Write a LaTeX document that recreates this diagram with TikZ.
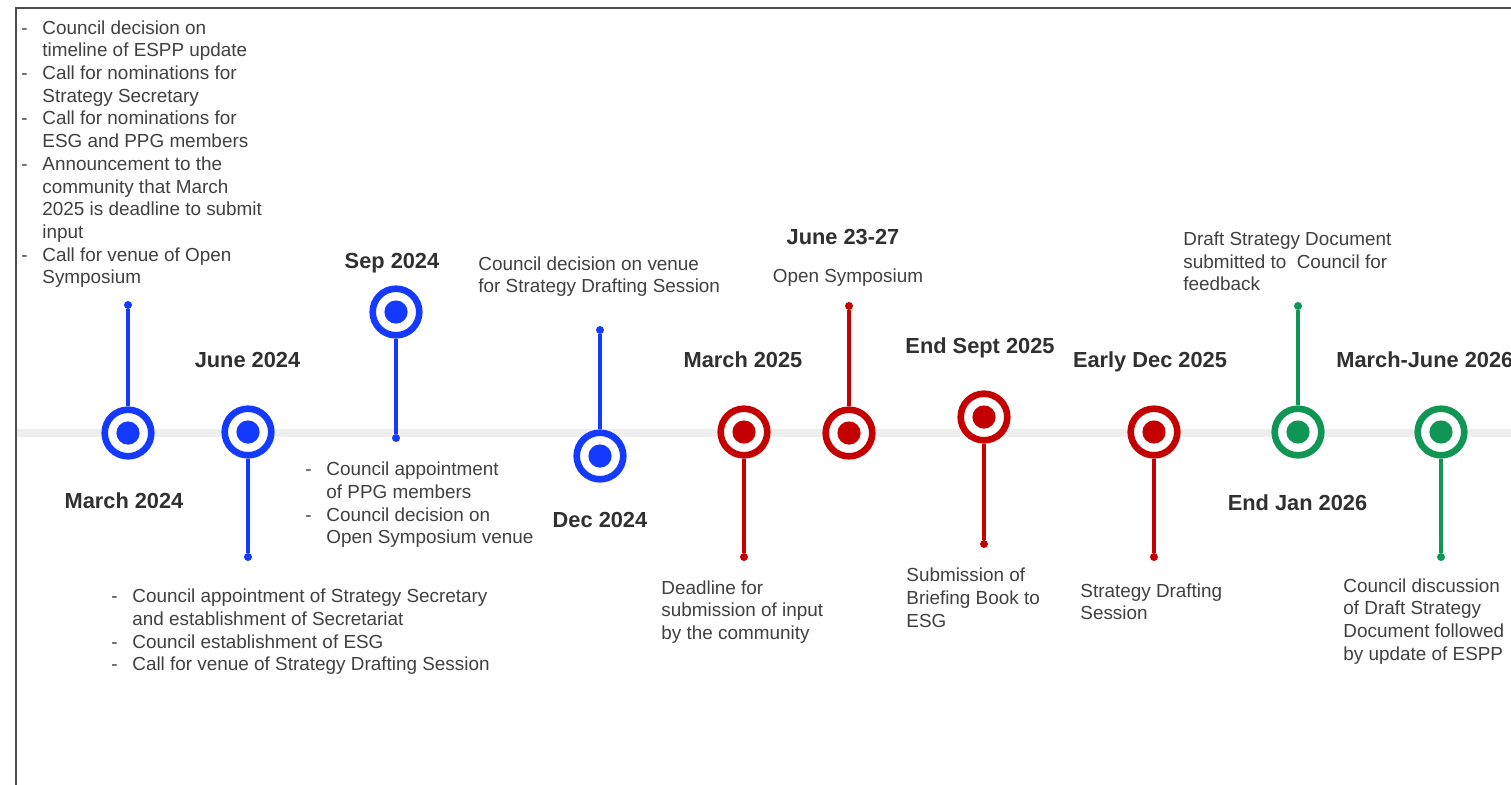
\documentclass[tikz,border=0pt]{standalone}
\usepackage{fontspec}
\setmainfont{Liberation Sans}
\definecolor{evblue}{RGB}{20,58,255}
\definecolor{evred}{RGB}{196,0,0}
\definecolor{evgreen}{RGB}{16,150,84}
\definecolor{axisgray}{RGB}{238,238,238}
\definecolor{txtgray}{RGB}{64,64,64}
\definecolor{lblgray}{RGB}{48,48,48}
\newcommand{\itm}[1]{\makebox[10.5pt][l]{-}#1}
\newcommand{\cnt}[1]{\hspace*{10.5pt}#1}

\begin{document}
\begin{tikzpicture}[x=0.5pt,y=-0.5pt,
  evring/.style={circle,draw=#1,fill=white,line width=3.3pt,minimum size=23.3pt,inner sep=0pt,
    path picture={\fill[#1] (path picture bounding box.center) circle (5.8pt);}},
  stemend/.style={circle,fill=#1,inner sep=0pt,minimum size=4pt},
  stem/.style={draw=#1,line width=1.6pt},
  when/.style={font=\bfseries\fontsize{10.9}{13}\selectfont,text=lblgray,anchor=base,inner sep=0pt},
  what/.style={font=\fontsize{9.45}{11.35}\selectfont,text=txtgray,align=left,anchor=north west,inner sep=0pt}]
\useasboundingbox (0,0) rectangle (1511,784);
\fill[white] (0,0) rectangle (1511,784);
\clip (0,0) rectangle (1511,784);
\draw[line width=1.2pt,draw=gray!60!black] (16,790) -- (16,8) -- (1515,8);
\draw[line width=4pt,axisgray] (17,433) -- (1511,433);
%march 2024
\node[evring=evblue] (m1) at (128,433) {};
\node[stemend=evblue] (e1) at (128,305) {};
\node[when] (d1) at (124,508) {March 2024};
\node[what] (n1) at (21,20) {\itm{Council decision on}\\ \cnt{timeline of ESPP update}\\
  \itm{Call for nominations for}\\ \cnt{Strategy Secretary}\\
  \itm{Call for nominations for}\\ \cnt{ESG and PPG members}\\
  \itm{Announcement to the}\\ \cnt{community that March}\\ \cnt{2025 is deadline to submit}\\ \cnt{input}\\
  \itm{Call for venue of Open}\\ \cnt{Symposium}};
\draw[stem=evblue] (m1) -- (e1);
%june 2024
\node[evring=evblue] (m2) at (248,432) {};
\node[stemend=evblue] (e2) at (248,557) {};
\node[when] (d2) at (247.5,367) {June 2024};
\node[what] (n2) at (111,588.5) {\itm{Council appointment of Strategy Secretary}\\ \cnt{and establishment of Secretariat}\\
  \itm{Council establishment of ESG}\\ \itm{Call for venue of Strategy Drafting Session}};
\draw[stem=evblue] (m2) -- (e2);
%sep 2024
\node[evring=evblue] (m3) at (396,312) {};
\node[stemend=evblue] (e3) at (396,438) {};
\node[when] (d3) at (392,268) {Sep 2024};
\node[what] (n3) at (305,461.5) {\itm{Council appointment}\\ \cnt{of PPG members}\\
  \itm{Council decision on}\\ \cnt{Open Symposium venue}};
\draw[stem=evblue] (m3) -- (e3);
%dec 2024
\node[evring=evblue] (m4) at (600,456) {};
\node[stemend=evblue] (e4) at (600,330) {};
\node[when] (d4) at (600,527) {Dec 2024};
\node[what] (n4) at (478,256) {Council decision on venue\\ for Strategy Drafting Session};
\draw[stem=evblue] (m4) -- (e4);
%march 2025
\node[evring=evred] (m5) at (744,432) {};
\node[stemend=evred] (e5) at (744,557) {};
\node[when] (d5) at (743,367) {March 2025};
\node[what] (n5) at (661,580) {Deadline for\\ submission of input\\ by the community};
\draw[stem=evred] (m5) -- (e5);
%june 23-27
\node[evring=evred] (m6) at (849,433) {};
\node[stemend=evred] (e6) at (849,306) {};
\node[when] (d6) at (843,244) {June 23-27};
\node[what,anchor=base] (n6) at (848,282) {Open Symposium};
\draw[stem=evred] (m6) -- (e6);
%end sept 2025
\node[evring=evred] (m7) at (984,417) {};
\node[stemend=evred] (e7) at (984,544) {};
\node[when] (d7) at (980,353) {End Sept 2025};
\node[what] (n7) at (906,567.5) {Submission of\\ Briefing Book to\\ ESG};
\draw[stem=evred] (m7) -- (e7);
%early dec 2025
\node[evring=evred] (m8) at (1154,432) {};
\node[stemend=evred] (e8) at (1154,557) {};
\node[when] (d8) at (1150,367) {Early Dec 2025};
\node[what] (n8) at (1080,583) {Strategy Drafting\\ Session};
\draw[stem=evred] (m8) -- (e8);
%end jan 2026
\node[evring=evgreen] (m9) at (1298,432) {};
\node[stemend=evgreen] (e9) at (1298,306) {};
\node[when] (d9) at (1297.5,510) {End Jan 2026};
\node[what] (n9) at (1183,231.5) {Draft Strategy Document\\ submitted to~ Council for\\ feedback};
\draw[stem=evgreen] (m9) -- (e9);
%march-june 2026
\node[evring=evgreen] (m10) at (1441,432) {};
\node[stemend=evgreen] (e10) at (1441,557) {};
\node[when,anchor=base west] (d10) at (1336,367) {March-June 2026};
\node[what] (n10) at (1343,578) {Council discussion\\ of Draft Strategy\\ Document followed\\ by update of ESPP};
\draw[stem=evgreen] (m10) -- (e10);
\end{tikzpicture}
\end{document}
